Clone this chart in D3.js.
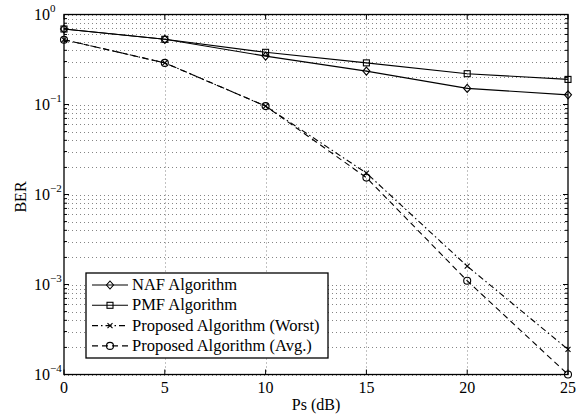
<!DOCTYPE html>
<html><head><meta charset="utf-8">
<script src="https://cdn.jsdelivr.net/npm/d3@7"></script>
<style>body{margin:0;background:#fff}svg{display:block}text{font-family:"Liberation Serif","Times New Roman",Times,serif;fill:#000}</style>
</head><body><svg id="c" width="582" height="414"></svg>
<script>
const psDb = [0, 5, 10, 15, 20, 25];
const nafBer = [0.69, 0.53, 0.345, 0.235, 0.151, 0.128];
const pmfBer = [0.69, 0.53, 0.38, 0.29, 0.22, 0.19];
const worstBer = [0.525, 0.29, 0.096, 0.0173, 0.0016, 0.00019];
const avgBer = [0.525, 0.29, 0.096, 0.0154, 0.0011, 0.0001];
const xTicks = [0, 5, 10, 15, 20, 25];
const yDecades = [0, -1, -2, -3, -4];
const seriesNames = ["NAF Algorithm", "PMF Algorithm", "Proposed Algorithm (Worst)", "Proposed Algorithm (Avg.)"];

const svg = d3.select("#c");
const L = 64, R = 568, T = 14.5, B = 374.5;
const x = d3.scaleLinear().domain([0, 25]).range([L, R]);
const y = d3.scaleLog().domain([1e-4, 1]).range([B, T]);

// grid
const g = svg.append("g");
const minor = [];
for (let e = -4; e < 0; e++) for (let k = 2; k <= 9; k++) minor.push(k * Math.pow(10, e));
const gridStyle = s => s.attr("stroke", "#777").attr("stroke-width", 0.9).attr("stroke-dasharray", "1,3");
g.selectAll(".hm").data(minor.concat(yDecades.map(e => Math.pow(10, e)))).enter().append("line")
  .attr("x1", L).attr("x2", R).attr("y1", d => Math.round(y(d)) + 0.5).attr("y2", d => Math.round(y(d)) + 0.5).call(gridStyle);
g.selectAll(".vm").data(xTicks.slice(1, -1)).enter().append("line")
  .attr("y1", T).attr("y2", B).attr("x1", d => Math.round(x(d)) + 0.5).attr("x2", d => Math.round(x(d)) + 0.5).call(gridStyle);

// axes ticks (inward)
const ax = svg.append("g").attr("stroke", "#000").attr("stroke-width", 1);
xTicks.forEach(t => {
  const px = x(t);
  ax.append("line").attr("x1", px).attr("x2", px).attr("y1", B).attr("y2", B - 5);
  ax.append("line").attr("x1", px).attr("x2", px).attr("y1", T).attr("y2", T + 5);
});
yDecades.forEach(e => {
  const py = y(Math.pow(10, e));
  ax.append("line").attr("x1", L).attr("x2", L + 5).attr("y1", py).attr("y2", py);
  ax.append("line").attr("x1", R).attr("x2", R - 5).attr("y1", py).attr("y2", py);
});
minor.forEach(v => {
  const py = y(v);
  ax.append("line").attr("x1", L).attr("x2", L + 3).attr("y1", py).attr("y2", py);
  ax.append("line").attr("x1", R).attr("x2", R - 3).attr("y1", py).attr("y2", py);
});
svg.append("rect").attr("x", L).attr("y", T).attr("width", R - L).attr("height", B - T)
  .attr("fill", "none").attr("stroke", "#000").attr("stroke-width", 1.3);

// tick labels
svg.selectAll(".xt").data(xTicks).enter().append("text")
  .attr("x", d => x(d)).attr("y", 393).attr("text-anchor", "middle").attr("font-size", 16).text(d => d);
yDecades.forEach(e => {
  svg.append("text").attr("x", 50).attr("y", y(Math.pow(10, e)) + 5).attr("text-anchor", "end").attr("font-size", 16).text("10");
  svg.append("text").attr("x", 50).attr("y", y(Math.pow(10, e)) - 3).attr("font-size", 11).text(e === 0 ? "0" : "\u2212" + (-e));
});
svg.append("text").attr("x", 316).attr("y", 410).attr("text-anchor", "middle").attr("font-size", 16).text("Ps (dB)");
svg.append("text").attr("transform", "translate(26,197) rotate(-90)").attr("text-anchor", "middle").attr("font-size", 16).text("BER");

// series
const line = d3.line().x((d, i) => x(psDb[i])).y(d => y(d));
const series = [
  { v: nafBer, dash: null, m: "diamond" },
  { v: pmfBer, dash: null, m: "square" },
  { v: worstBer, dash: "6,3,1.5,3", m: "x" },
  { v: avgBer, dash: "6,4", m: "circle" }
];
function marker(sel, type, cx, cy) {
  const s = sel.append("g").attr("stroke", "#000").attr("fill", "none").attr("stroke-width", 1.1);
  if (type === "diamond") s.append("path").attr("d", `M${cx},${cy - 4}L${cx + 3.5},${cy}L${cx},${cy + 4}L${cx - 3.5},${cy}Z`);
  if (type === "square") s.append("rect").attr("x", cx - 3).attr("y", cy - 3).attr("width", 6).attr("height", 6);
  if (type === "x") s.append("path").attr("d", `M${cx - 2.5},${cy - 2.5}L${cx + 2.5},${cy + 2.5}M${cx - 2.5},${cy + 2.5}L${cx + 2.5},${cy - 2.5}`);
  if (type === "circle") s.append("circle").attr("cx", cx).attr("cy", cy).attr("r", 3.5);
}
series.forEach(s => {
  svg.append("path").datum(s.v).attr("d", line).attr("fill", "none").attr("stroke", "#000")
    .attr("stroke-width", 1.1).attr("stroke-dasharray", s.dash);
});
series.forEach(s => s.v.forEach((d, i) => marker(svg, s.m, x(psDb[i]), y(d))));

// legend
const lg = svg.append("g");
lg.append("rect").attr("x", 86).attr("y", 273).attr("width", 242).attr("height", 85)
  .attr("fill", "#fff").attr("stroke", "#000").attr("stroke-width", 1.3);
seriesNames.forEach((n, i) => {
  const cy = 285 + i * 20.3;
  lg.append("line").attr("x1", 92).attr("x2", 128).attr("y1", cy).attr("y2", cy)
    .attr("stroke", "#000").attr("stroke-width", 1.1).attr("stroke-dasharray", series[i].dash);
  marker(lg, series[i].m, 110, cy);
  lg.append("text").attr("x", 132).attr("y", cy + 5).attr("font-size", 16.5).text(n);
});
</script></body></html>
